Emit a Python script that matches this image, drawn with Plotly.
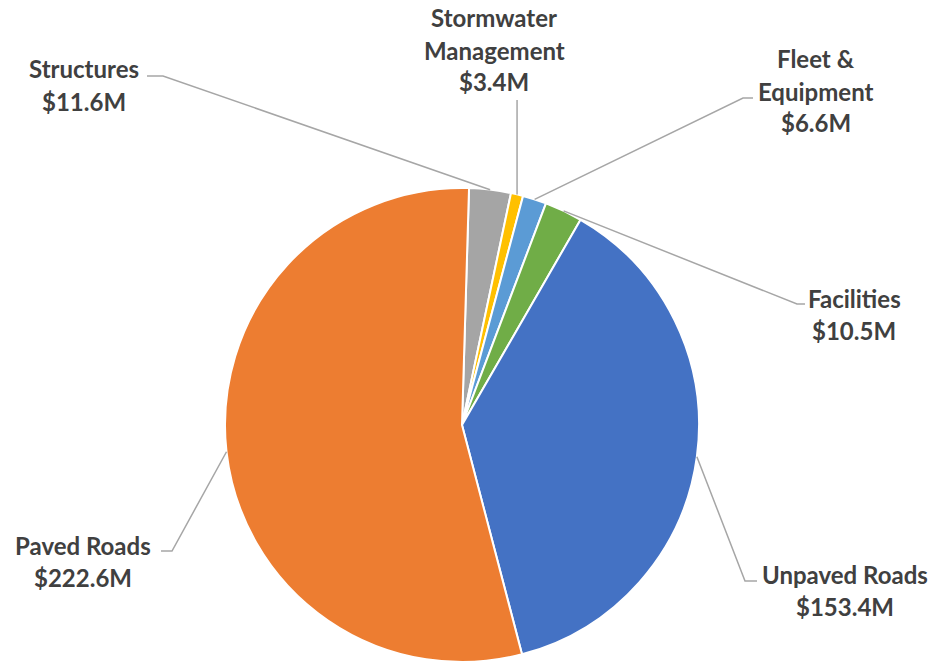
import math
import plotly.graph_objects as go

# Capital needs by asset class, millions of dollars (clockwise from 12 o'clock)
categories = ["Structures", "Stormwater Management", "Fleet & Equipment",
              "Facilities", "Unpaved Roads", "Paved Roads"]
values = [11.6, 3.4, 6.6, 10.5, 153.4, 222.6]
colors = ["#A5A5A5", "#FFC000", "#5B9BD5", "#70AD47", "#4472C4", "#ED7D31"]

# Multi-line category captions for the outside labels
caption_lines = {
    "Structures": ["Structures"],
    "Stormwater Management": ["Stormwater", "Management"],
    "Fleet & Equipment": ["Fleet &", "Equipment"],
    "Facilities": ["Facilities"],
    "Unpaved Roads": ["Unpaved Roads"],
    "Paved Roads": ["Paved Roads"],
}

W, H = 937, 662
CX, CY, R = 462, 425, 237       # pie centre / radius in pixels
ROTATION = 1.7                  # degrees, clockwise start offset

# label block placement: (centre x, first line y) in pixels
label_pos = {
    "Structures": (84, 69),
    "Stormwater Management": (494, 18),
    "Fleet & Equipment": (816, 59),
    "Facilities": (854, 298),
    "Unpaved Roads": (845, 574),
    "Paved Roads": (83, 545),
}
# leader-line bend points after leaving the slice edge (pixels)
leader_path = {
    "Structures": [(163, 76), (147, 76)],
    "Stormwater Management": [(None, 100)],
    "Fleet & Equipment": [(743, 98), (753, 98)],
    "Facilities": [(797, 304), (805, 304)],
    "Unpaved Roads": [(745, 581), (757, 581)],
    "Paved Roads": [(172, 551), (161, 551)],
}
LINE_PITCH = 32
FONT = dict(family="Lato", size=24, color="#404040")


def px(x):
    return x / W


def py(y):
    return 1 - y / H


fig = go.Figure(go.Pie(
    labels=categories,
    values=values,
    sort=False,
    direction="clockwise",
    rotation=ROTATION,
    marker=dict(colors=colors, line=dict(color="white", width=2)),
    textinfo="none",
    hoverinfo="label+value",
    showlegend=False,
    domain=dict(x=[px(CX - R), px(CX + R)], y=[py(CY + R), py(CY - R)]),
))

total = sum(values)
cum = 0.0
annotations = []
shapes = []
for cat, val in zip(categories, values):
    mid = (cum + val / 2) / total
    cum += val
    ang = math.radians(ROTATION + 360 * mid)
    ex, ey = CX + R * math.sin(ang), CY - R * math.cos(ang)

    pts = [(ex, ey)] + [(ex if x is None else x, y) for x, y in leader_path[cat]]
    path = "M " + " L ".join(f"{px(x):.5f},{py(y):.5f}" for x, y in pts)
    shapes.append(dict(type="path", path=path, xref="paper", yref="paper",
                       line=dict(color="#A6A6A6", width=1.5)))

    lx, ly = label_pos[cat]
    lines = caption_lines[cat] + [f"${val}M"]
    for i, txt in enumerate(lines):
        annotations.append(dict(
            text=f"<b>{txt}</b>", x=px(lx), y=py(ly + i * LINE_PITCH),
            xref="paper", yref="paper", xanchor="center", yanchor="middle",
            showarrow=False, font=FONT,
        ))

fig.update_layout(
    width=W, height=H,
    margin=dict(l=0, r=0, t=0, b=0),
    paper_bgcolor="white",
    plot_bgcolor="white",
    annotations=annotations,
    shapes=shapes,
)

fig.write_html("out.html")
